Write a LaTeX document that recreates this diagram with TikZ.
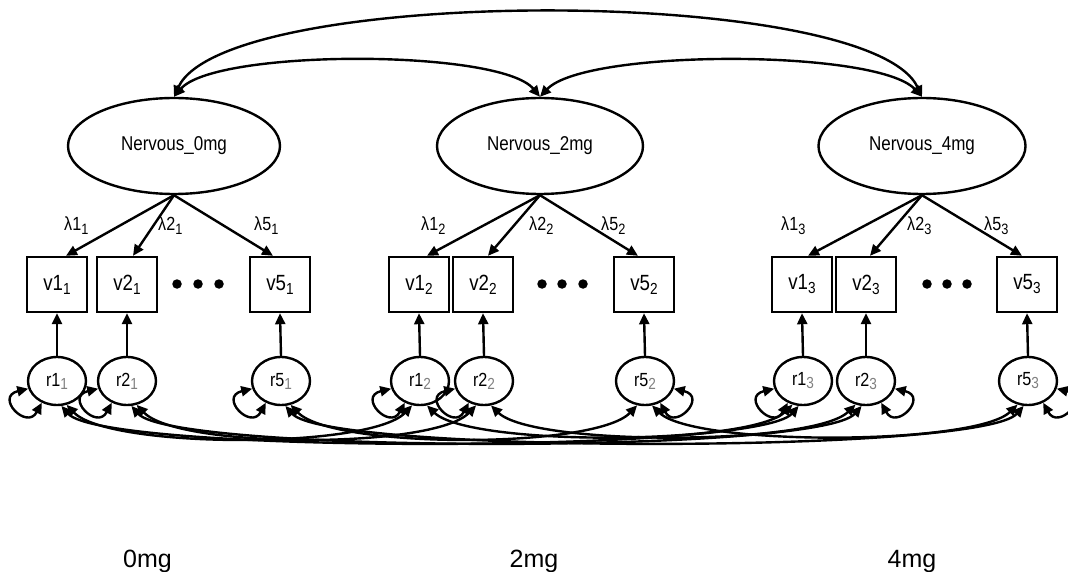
\documentclass[tikz,border=0pt]{standalone}
\usepackage{fontspec}
\setmainfont{Liberation Sans}[FakeStretch=0.85]
\newfontfamily\widefont{Liberation Sans}
\usetikzlibrary{arrows.meta,shapes.geometric}
\newcommand{\lsub}[3]{\raisebox{-#3}{\fontsize{#2}{#2}\selectfont #1}}
\newcommand{\vlab}[2]{v#1\lsub{#2}{16pt}{4pt}}
\newcommand{\rlab}[2]{r#1\lsub{\textcolor{black!50}{#2}}{16pt}{3pt}}
\newcommand{\llab}[2]{λ#1\lsub{#2}{15pt}{4pt}}
\begin{document}
\begin{tikzpicture}[x=1pt,y=-1pt, line width=2.4pt,
  >={Triangle[length=11pt,width=10pt]},
  latent/.style={draw, ellipse, inner sep=0pt, minimum height=96pt, font=\fontsize{20pt}{20pt}\selectfont},
  obs/.style={draw, rectangle, inner sep=0pt, minimum width=60pt, minimum height=55pt, font=\fontsize{22pt}{22pt}\selectfont},
  resid/.style={draw, ellipse, inner sep=0pt, minimum width=58pt, minimum height=48pt, font=\fontsize{19pt}{19pt}\selectfont},
  lam/.style={anchor=base west, inner sep=0pt, font=\fontsize{19pt}{19pt}\selectfont},
  cond/.style={anchor=base, inner sep=0pt, font=\widefont\fontsize{25pt}{25pt}\selectfont},
  cov/.style={<->},
  load/.style={->},
  dotnode/.style={circle, fill, inner sep=0pt, minimum size=9.5pt}]
\useasboundingbox[fill=white] (0,0) rectangle (1068,572);

% latent variables
\node[latent, minimum width=212pt] (N0) at (174,146) {Nervous\_0mg};
\node[latent, minimum width=206pt] (N2) at (540,146) {Nervous\_2mg};
\node[latent, minimum width=207pt] (N4) at (922,146) {Nervous\_4mg};

% observed
\node[obs] (v11) at (57,284.5) {\vlab{1}{1}};
\node[obs] (v21) at (127,284.5) {\vlab{2}{1}};
\node[obs] (v51) at (280,284.5) {\vlab{5}{1}};
\node[obs] (v12) at (419,284.5) {\vlab{1}{2}};
\node[obs] (v22) at (483,284.5) {\vlab{2}{2}};
\node[obs] (v52) at (644,284.5) {\vlab{5}{2}};
\node[obs] (v13) at (802,284.5) {\vlab{1}{3}};
\node[obs] (v23) at (866,284.5) {\vlab{2}{3}};
\node[obs] (v53) at (1027,284.5) {\vlab{5}{3}};

% dots
\node[dotnode] (d1a) at (177,284) {};
\node[dotnode] (d1b) at (198,284) {};
\node[dotnode] (d1c) at (219,284) {};
\node[dotnode] (d2a) at (542,284) {};
\node[dotnode] (d2b) at (562,284) {};
\node[dotnode] (d2c) at (583,284) {};
\node[dotnode] (d3a) at (927,284) {};
\node[dotnode] (d3b) at (947,284) {};
\node[dotnode] (d3c) at (967,284) {};

% residuals
\node[resid] (r11) at (57,381) {\rlab{1}{1}};
\node[resid] (r21) at (127,381) {\rlab{2}{1}};
\node[resid] (r51) at (281,381) {\rlab{5}{1}};
\node[resid] (r12) at (420,381) {\rlab{1}{2}};
\node[resid] (r22) at (484,381) {\rlab{2}{2}};
\node[resid] (r52) at (645,381) {\rlab{5}{2}};
\node[resid] (r13) at (803,381) {\rlab{1}{3}};
\node[resid] (r23) at (866,381) {\rlab{2}{3}};
\node[resid] (r53) at (1028,381) {\rlab{5}{3}};

% loadings
\draw[load] (N0.south) -- ([xshift=9pt]v11.north);
\draw[load] (N0.south) -- ([xshift=6pt]v21.north);
\draw[load] (N0.south) -- ([xshift=-7pt]v51.north);
\draw[load] (N2.south) -- ([xshift=8pt]v12.north);
\draw[load] (N2.south) -- ([xshift=5pt]v22.north);
\draw[load] (N2.south) -- ([xshift=-6pt]v52.north);
\draw[load] (N4.south) -- ([xshift=6pt]v13.north);
\draw[load] (N4.south) -- ([xshift=4pt]v23.north);
\draw[load] (N4.south) -- ([xshift=-5pt]v53.north);

% loading labels
\node[lam] (l11) at (63,230) {\llab{1}{1}};
\node[lam] (l21) at (157,230) {\llab{2}{1}};
\node[lam] (l51) at (253,230) {\llab{5}{1}};
\node[lam] (l12) at (420,230) {\llab{1}{2}};
\node[lam] (l22) at (528,230) {\llab{2}{2}};
\node[lam] (l52) at (600,230) {\llab{5}{2}};
\node[lam] (l13) at (780,230) {\llab{1}{3}};
\node[lam] (l23) at (906,230) {\llab{2}{3}};
\node[lam] (l53) at (983,230) {\llab{5}{3}};

% residual paths
\foreach \k in {1,2,5}{
  \foreach \t in {1,2,3}{
    \draw[load] (r\k\t.north) -- (v\k\t.south);
  }
}

% latent covariances
\draw[cov] (N0.north) .. controls +(51,-112) and +(-52,-112) .. (N4.north);
\draw[cov] (N0.north) .. controls +(41,-48) and +(-40,-48) .. (N2.north);
\draw[cov] (N2.north) .. controls +(45,-48) and +(-45,-48) .. (N4.north);

% residual covariances
\foreach \k in {1,2,5}{
  \draw[cov] (r\k1.-68) .. controls +(42,44) and +(-42,44) .. (r\k2.-108);
  \draw[cov] (r\k1.-80) .. controls +(42,48) and +(-42,48) .. (r\k3.-100);
  \draw[cov] (r\k2.-74) .. controls +(42,41) and +(-42,41) .. (r\k3.-114);
}

% variances (loops)
\foreach \n in {r11,r21,r51,r12,r22,r13}{
  \draw[cov] (\n.195) .. controls +(-34,8) and +(-15,28) .. (\n.235);
}
\foreach \n in {r52,r23,r53}{
  \draw[cov] (\n.-15) .. controls +(34,8) and +(15,28) .. (\n.-55);
}

% condition labels
\node[cond] (c0) at (147.5,567) {0mg};
\node[cond] (c2) at (534,567) {2mg};
\node[cond] (c4) at (912,567) {4mg};
\end{tikzpicture}
\end{document}
